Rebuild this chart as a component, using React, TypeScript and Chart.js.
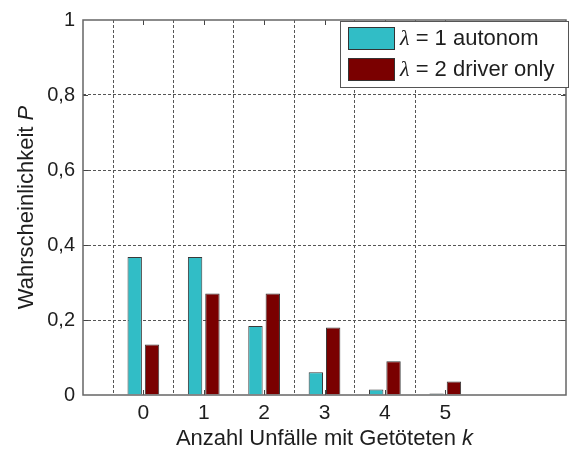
import { useEffect, useRef } from 'react';
import { Chart, registerables } from 'chart.js';

Chart.register(...registerables);

// ---- data ----
const K_VALUES = [0, 1, 2, 3, 4, 5];
const P_AUTONOM = [0.368, 0.368, 0.184, 0.061, 0.015, 0.004];
const P_DRIVER_ONLY = [0.135, 0.271, 0.271, 0.18, 0.09, 0.036];
const Y_TICK_LABELS = ['0', '0,2', '0,4', '0,6', '0,8', '1'];
const LEGEND_SYMBOL = 'λ';
const LEGEND_REST = [' = 1 autonom', ' = 2 driver only'];
const X_TITLE = 'Anzahl Unfälle mit Getöteten ';
const X_TITLE_VAR = 'k';
const Y_TITLE = 'Wahrscheinlichkeit ';
const Y_TITLE_VAR = 'P';

const CYAN = '#31BDC6';
const DARKRED = '#7A0000';
const SANS = "'Liberation Sans', Arial, sans-serif";
const SERIF = "'Liberation Serif', 'Times New Roman', serif";
const TEXT = '#1e1e1e';

const overlayPlugin = {
  id: 'overlay',
  afterDraw(chart: any) {
    const ctx = chart.ctx as CanvasRenderingContext2D;
    const { left, right, top, bottom } = chart.chartArea;
    const xs = chart.scales.x;
    const ys = chart.scales.y;
    ctx.save();
    // tick marks inside
    ctx.strokeStyle = '#444';
    ctx.lineWidth = 1;
    ctx.setLineDash([]);
    ctx.beginPath();
    K_VALUES.forEach((k) => {
      const px = Math.round(xs.getPixelForValue(k)) + 0.5;
      ctx.moveTo(px, top);
      ctx.lineTo(px, top + 5);
      ctx.moveTo(px, bottom);
      ctx.lineTo(px, bottom - 5);
    });
    [0.2, 0.4, 0.6, 0.8].forEach((v) => {
      const py = Math.round(ys.getPixelForValue(v)) + 0.5;
      ctx.moveTo(left, py);
      ctx.lineTo(left + 5, py);
      ctx.moveTo(right, py);
      ctx.lineTo(right - 5, py);
    });
    ctx.stroke();
    // frame
    ctx.strokeStyle = '#666';
    ctx.lineWidth = 1.5;
    ctx.strokeRect(left, top, right - left, bottom - top);

    // x title
    ctx.fillStyle = TEXT;
    ctx.textBaseline = 'alphabetic';
    ctx.textAlign = 'left';
    const fN = `22px ${SANS}`;
    const fI = `italic 22px ${SANS}`;
    ctx.font = fN;
    const w1 = ctx.measureText(X_TITLE).width;
    ctx.font = fI;
    const w2 = ctx.measureText(X_TITLE_VAR).width;
    const cx = (left + right) / 2;
    let sx = cx - (w1 + w2) / 2;
    ctx.font = fN;
    ctx.fillText(X_TITLE, sx, 445);
    ctx.font = fI;
    ctx.fillText(X_TITLE_VAR, sx + w1, 445);

    // y title
    ctx.save();
    ctx.translate(33, (top + bottom) / 2);
    ctx.rotate(-Math.PI / 2);
    ctx.font = fN;
    const y1 = ctx.measureText(Y_TITLE).width;
    ctx.font = fI;
    const y2 = ctx.measureText(Y_TITLE_VAR).width;
    const sy = -(y1 + y2) / 2;
    ctx.font = fN;
    ctx.fillText(Y_TITLE, sy, 0);
    ctx.font = fI;
    ctx.fillText(Y_TITLE_VAR, sy + y1, 0);
    ctx.restore();

    // legend
    const lx = 340, ly = 21, lw = 228, lh = 66;
    ctx.fillStyle = '#fff';
    ctx.fillRect(lx, ly, lw, lh);
    ctx.strokeStyle = '#555';
    ctx.lineWidth = 1;
    ctx.strokeRect(lx + 0.5, ly + 0.5, lw, lh);
    const datasets = chart.data.datasets;
    const rows = [38, 69];
    datasets.forEach((ds: any, i: number) => {
      const cy = rows[i];
      ctx.fillStyle = ds.backgroundColor;
      ctx.fillRect(348, cy - 11, 46, 22);
      ctx.strokeStyle = '#333';
      ctx.strokeRect(348.5, cy - 11 + 0.5, 46, 22);
      ctx.fillStyle = TEXT;
      ctx.textBaseline = 'middle';
      ctx.font = `italic 22px ${SERIF}`;
      ctx.fillText(LEGEND_SYMBOL, 400, cy + 1);
      const ws = ctx.measureText(LEGEND_SYMBOL).width;
      ctx.font = fN;
      ctx.fillText(LEGEND_REST[i], 400 + ws, cy + 1);
    });
    ctx.restore();
  },
};

export default function App() {
  const ref = useRef<HTMLCanvasElement>(null);
  useEffect(() => {
    const canvas = ref.current!;
    const chart = new Chart(canvas, {
      type: 'bar',
      data: {
        datasets: [
          {
            label: LEGEND_SYMBOL + LEGEND_REST[0],
            data: K_VALUES.map((k, i) => ({ x: k, y: P_AUTONOM[i] })),
            backgroundColor: CYAN,
            borderColor: '#3a3a3a',
            borderWidth: 1,
          },
          {
            label: LEGEND_SYMBOL + LEGEND_REST[1],
            data: K_VALUES.map((k, i) => ({ x: k, y: P_DRIVER_ONLY[i] })),
            backgroundColor: DARKRED,
            borderColor: '#3a3a3a',
            borderWidth: 1,
          },
        ],
      } as any,
      options: {
        responsive: false,
        animation: false,
        devicePixelRatio: 1,
        layout: { padding: { top: 13, right: 2, left: 0, bottom: 0 } },
        plugins: { legend: { display: false }, tooltip: { enabled: false } },
        datasets: { bar: { categoryPercentage: 0.574, barPercentage: 0.83 } },
        scales: {
          x: {
            type: 'linear',
            min: -1,
            max: 7,
            offset: false,
            ticks: {
              stepSize: 1,
              autoSkip: false,
              maxRotation: 0,
              padding: 6,
              color: TEXT,
              font: { family: SANS, size: 21 },
              callback: (v: any) => (K_VALUES.includes(v) ? String(v) : ''),
            },
            grid: {
              drawTicks: false,
              lineWidth: 1,
              color: (c: any) =>
                c.tick && K_VALUES.includes(c.tick.value) ? '#555' : 'rgba(0,0,0,0)',
            },
            border: { display: false, dash: [3, 2] },
            afterFit: (s: any) => {
              s.height = 55;
            },
          },
          y: {
            min: 0,
            max: 1,
            ticks: {
              stepSize: 0.2,
              autoSkip: false,
              padding: 8,
              color: TEXT,
              font: { family: SANS, size: 20 },
              callback: (_v: any, i: number) => Y_TICK_LABELS[i],
            },
            grid: {
              drawTicks: false,
              lineWidth: 1,
              color: (c: any) =>
                c.tick && c.tick.value > 0.01 && c.tick.value < 0.99 ? '#555' : 'rgba(0,0,0,0)',
            },
            border: { display: false, dash: [3, 2] },
            afterFit: (s: any) => {
              s.width = 83;
            },
          },
        },
      } as any,
      plugins: [overlayPlugin],
    });
    return () => chart.destroy();
  }, []);
  return (
    <div style={{ position: 'fixed', left: 0, top: 0, width: 572, height: 450, background: '#fff' }}>
      <canvas ref={ref} width={572} height={450} style={{ display: 'block' }} />
    </div>
  );
}
